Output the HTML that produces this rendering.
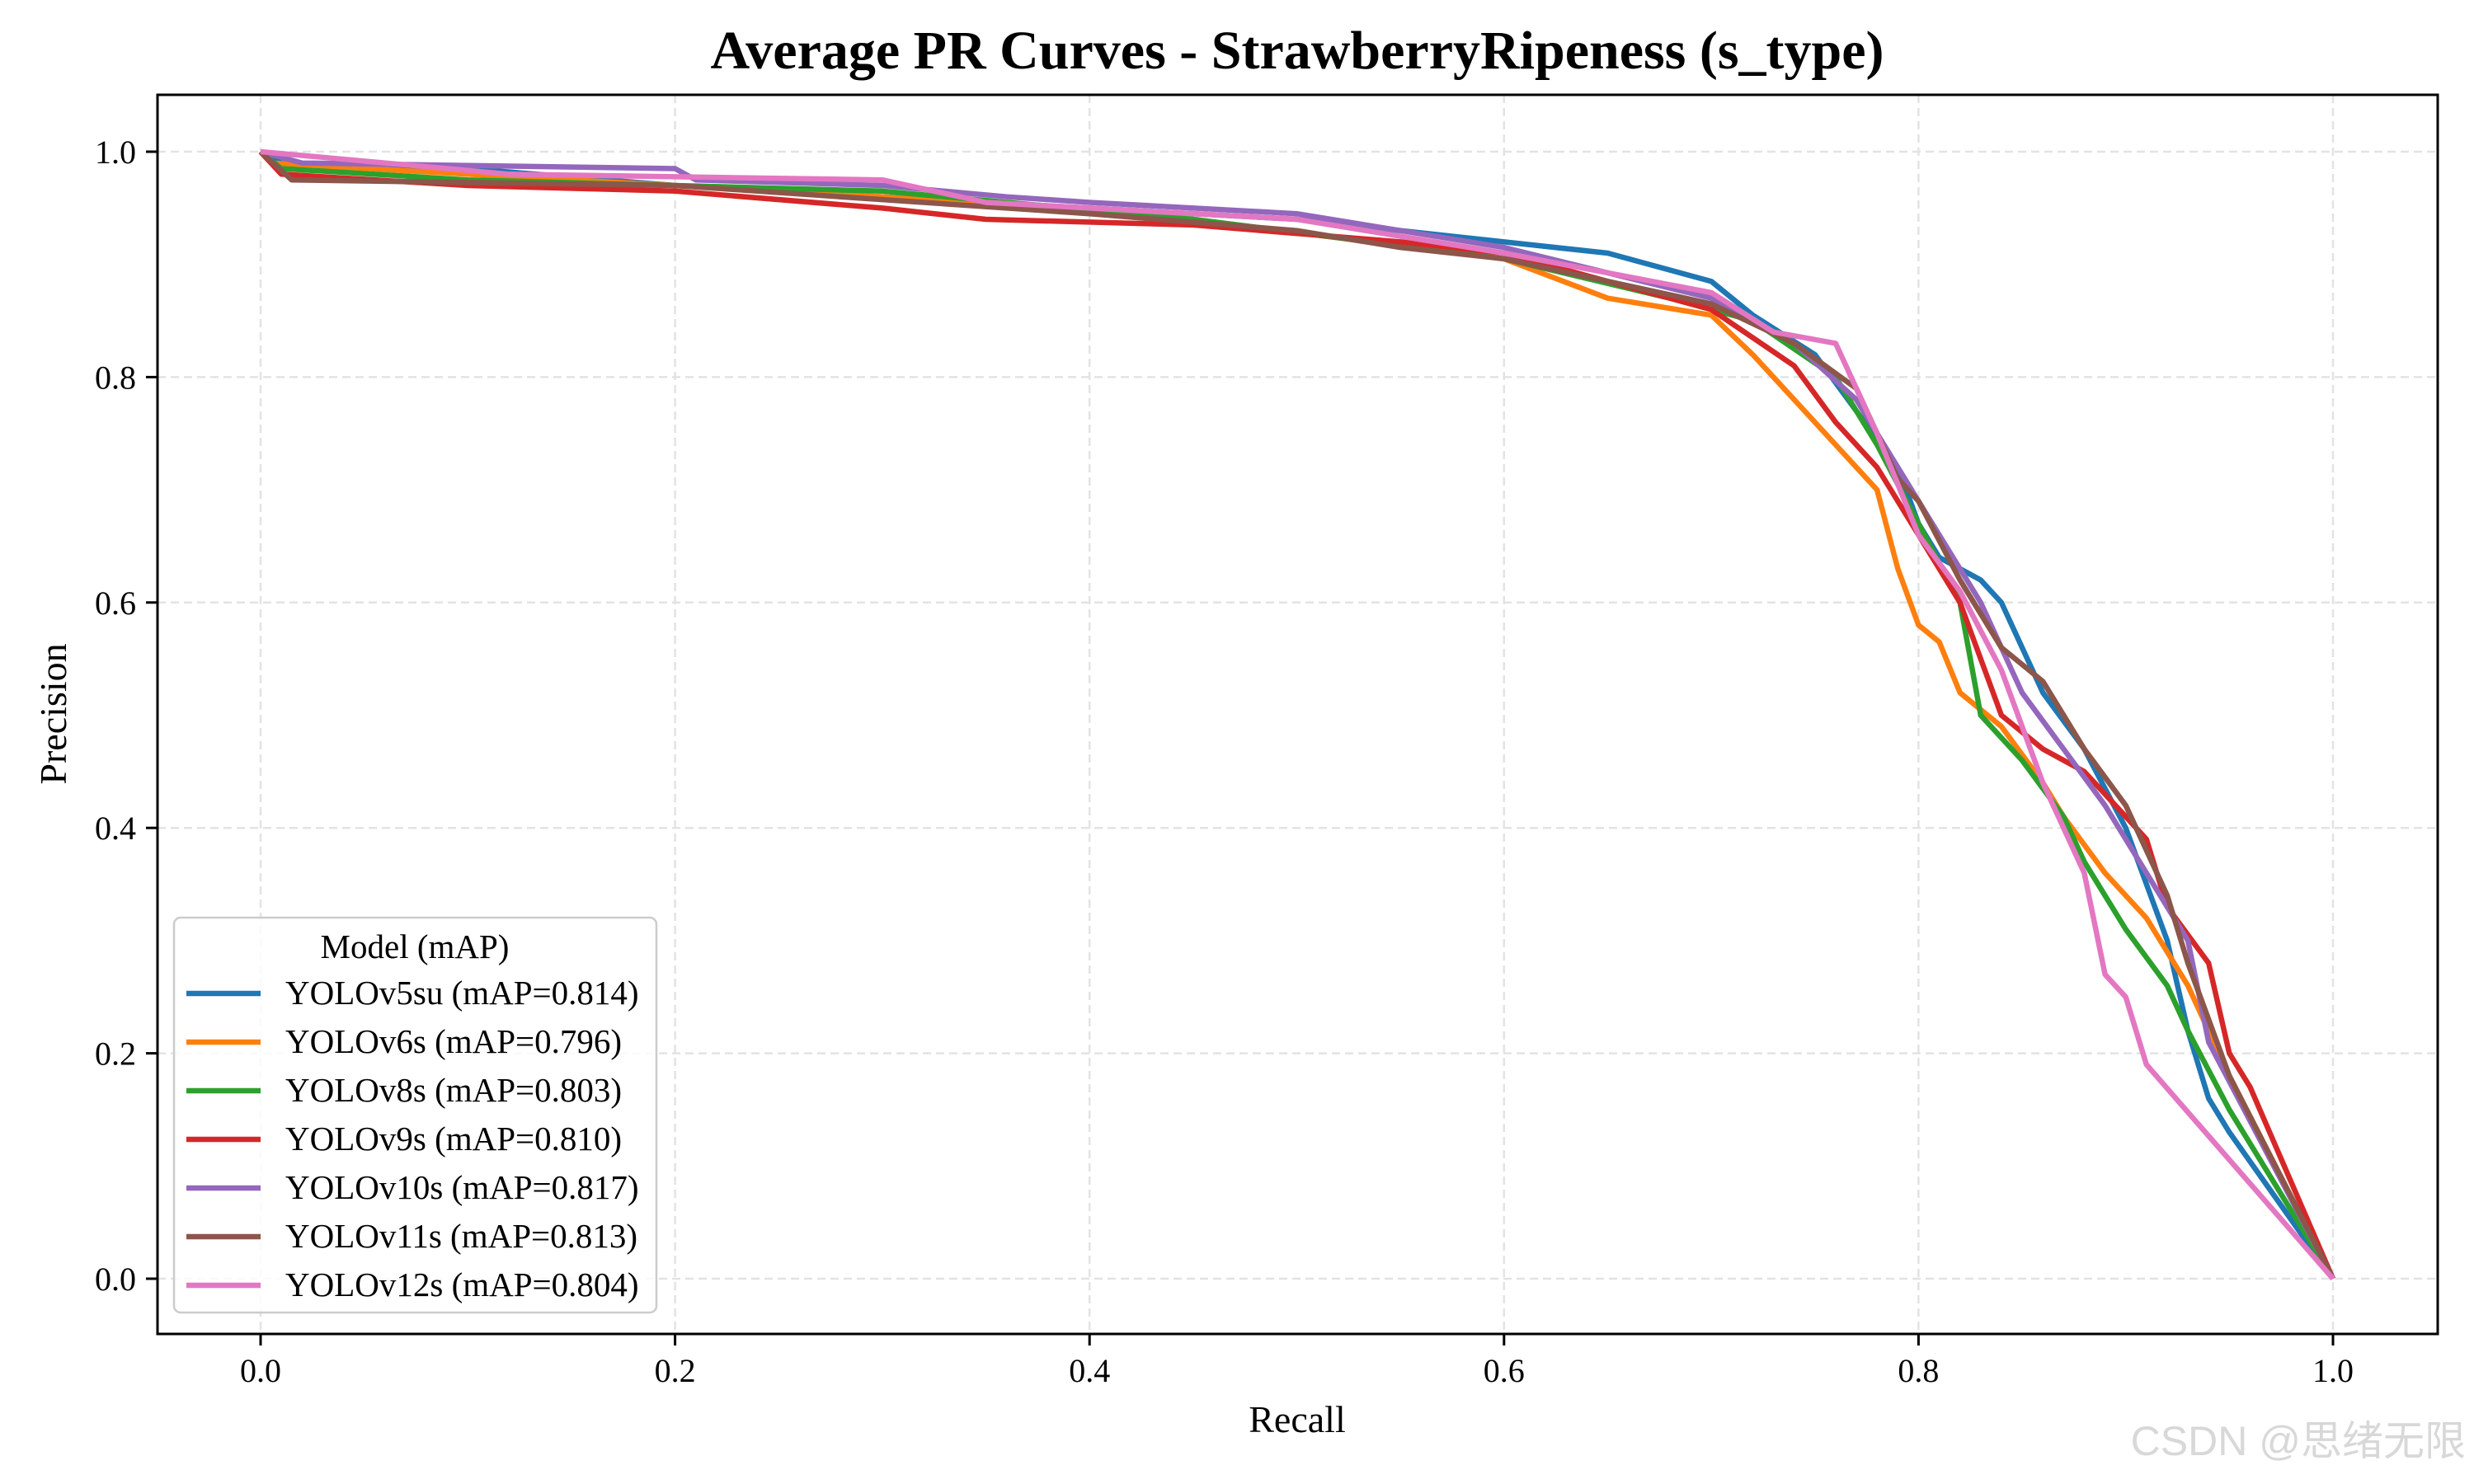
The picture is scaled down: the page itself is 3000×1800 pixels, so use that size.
<!DOCTYPE html>
<html><head><meta charset="utf-8">
<style>
html,body{margin:0;padding:0;background:#fff;}
svg{display:block;font-family:"Liberation Serif","Noto Serif CJK SC",serif;}
</style></head>
<body>
<svg id="chart" width="3000" height="1800" viewBox="0 0 3000 1800" xmlns="http://www.w3.org/2000/svg">
<rect width="3000" height="1800" fill="#fff"/>
<text x="1573" y="83" text-anchor="middle" font-size="66" font-weight="bold">Average PR Curves - StrawberryRipeness (s_type)</text>
<g id="grid"></g>
<g id="series"></g>
<rect x="191" y="115" width="2765" height="1503" fill="none" stroke="#000" stroke-width="3"/>
<g id="ticks"></g>
<text x="1573" y="1737" text-anchor="middle" font-size="46">Recall</text>
<text x="80" y="866" text-anchor="middle" font-size="46" transform="rotate(-90 80 866)">Precision</text>
<g id="legend"></g>
<text x="2990" y="1765" text-anchor="end" font-size="50" fill="#d8d8d8" font-family="Liberation Sans, Noto Sans CJK SC, sans-serif">CSDN @思绪无限</text>
</svg>
<script>
const xTicks=[0,0.2,0.4,0.6,0.8,1.0];
const yTicks=[0,0.2,0.4,0.6,0.8,1.0];
const tickLabels=["0.0","0.2","0.4","0.6","0.8","1.0"];
const names=["YOLOv5su (mAP=0.814)","YOLOv6s (mAP=0.796)","YOLOv8s (mAP=0.803)","YOLOv9s (mAP=0.810)","YOLOv10s (mAP=0.817)","YOLOv11s (mAP=0.813)","YOLOv12s (mAP=0.804)"];
const colors=["#1f77b4","#ff7f0e","#2ca02c","#d62728","#9467bd","#8c564b","#e377c2"];
const v5=[[0,1],[0.01,0.99],[0.1,0.985],[0.2,0.97],[0.3,0.96],[0.4,0.95],[0.5,0.94],[0.6,0.92],[0.65,0.91],[0.7,0.885],[0.72,0.855],[0.75,0.82],[0.77,0.77],[0.79,0.72],[0.8,0.67],[0.81,0.64],[0.83,0.62],[0.84,0.6],[0.86,0.52],[0.88,0.47],[0.9,0.4],[0.92,0.3],[0.93,0.22],[0.94,0.16],[0.95,0.13],[1,0]];
const v6=[[0,1],[0.005,0.99],[0.1,0.98],[0.3,0.96],[0.45,0.94],[0.6,0.905],[0.65,0.87],[0.7,0.855],[0.72,0.82],[0.74,0.78],[0.76,0.74],[0.78,0.7],[0.79,0.63],[0.8,0.58],[0.81,0.565],[0.82,0.52],[0.84,0.49],[0.86,0.44],[0.87,0.41],[0.89,0.36],[0.91,0.32],[0.93,0.26],[0.95,0.18],[1,0]];
const v8=[[0,1],[0.01,0.985],[0.1,0.975],[0.3,0.965],[0.45,0.94],[0.6,0.905],[0.68,0.87],[0.72,0.85],[0.76,0.8],[0.78,0.74],[0.8,0.67],[0.82,0.6],[0.83,0.5],[0.85,0.46],[0.87,0.41],[0.88,0.37],[0.9,0.31],[0.92,0.26],[0.93,0.22],[0.95,0.15],[1,0]];
const v9=[[0,1],[0.01,0.98],[0.1,0.97],[0.2,0.965],[0.3,0.95],[0.35,0.94],[0.45,0.935],[0.55,0.92],[0.6,0.91],[0.7,0.86],[0.74,0.81],[0.76,0.76],[0.78,0.72],[0.8,0.66],[0.82,0.6],[0.84,0.5],[0.86,0.47],[0.88,0.45],[0.9,0.41],[0.91,0.39],[0.92,0.33],[0.94,0.28],[0.95,0.2],[0.96,0.17],[1,0]];
const v10=[[0,1],[0.02,0.99],[0.2,0.985],[0.21,0.975],[0.3,0.97],[0.36,0.96],[0.4,0.955],[0.5,0.945],[0.6,0.915],[0.7,0.87],[0.74,0.83],[0.77,0.78],[0.79,0.72],[0.81,0.66],[0.83,0.6],[0.85,0.52],[0.87,0.47],[0.89,0.42],[0.91,0.36],[0.93,0.3],[0.94,0.21],[1,0]];
const v11=[[0,1],[0.015,0.975],[0.2,0.97],[0.4,0.945],[0.5,0.93],[0.55,0.915],[0.6,0.905],[0.7,0.865],[0.74,0.83],[0.77,0.79],[0.79,0.71],[0.8,0.69],[0.82,0.62],[0.84,0.56],[0.86,0.53],[0.88,0.47],[0.9,0.42],[0.92,0.34],[0.93,0.28],[0.95,0.18],[1,0]];
const v12=[[0,1],[0.03,0.995],[0.12,0.98],[0.3,0.975],[0.35,0.955],[0.5,0.94],[0.6,0.91],[0.7,0.875],[0.73,0.84],[0.76,0.83],[0.78,0.75],[0.8,0.66],[0.82,0.61],[0.84,0.54],[0.86,0.44],[0.88,0.36],[0.89,0.27],[0.9,0.25],[0.91,0.19],[1,0]];
const allSeries=[v5,v6,v8,v9,v10,v11,v12];

const NS="http://www.w3.org/2000/svg";
const X0=316,X1=2829,Y0=1551,Y1=184;
function sx(v){return X0+(X1-X0)*v;}
function sy(v){return Y0-(Y0-Y1)*v;}
function mk(tag,attrs,parent){const e=document.createElementNS(NS,tag);for(const k in attrs)e.setAttribute(k,attrs[k]);parent.appendChild(e);return e;}
const grid=document.getElementById('grid'),ticks=document.getElementById('ticks'),ser=document.getElementById('series'),leg=document.getElementById('legend');
xTicks.forEach((t,i)=>{
  const g=mk('line',{x1:sx(t),x2:sx(t),y1:115,y2:1618,stroke:'#e3e3e3','stroke-width':2.5,'stroke-dasharray':'10 6'},grid);
  
  
  const tk=mk('line',{x1:sx(t),x2:sx(t),y1:1618,y2:1632,stroke:'#000','stroke-width':3},ticks);
  
  
  const tl=mk('text',{x:sx(t),y:1676,'text-anchor':'middle','font-size':40},ticks);
  
  
  tl.textContent=tickLabels[i];
});
yTicks.forEach((t,i)=>{
  const g=mk('line',{x1:191,x2:2956,y1:sy(t),y2:sy(t),stroke:'#e3e3e3','stroke-width':2.5,'stroke-dasharray':'10 6'},grid);
  
  
  const tk=mk('line',{x1:177,x2:191,y1:sy(t),y2:sy(t),stroke:'#000','stroke-width':3},ticks);
  
  
  const tl=mk('text',{x:165,y:sy(t)+14,'text-anchor':'end','font-size':40},ticks);
  
  
  tl.textContent=tickLabels[i];
});
allSeries.forEach((s,i)=>{
  const d=s.map((p,j)=>(j?'L':'M')+sx(p[0]).toFixed(1)+' '+sy(p[1]).toFixed(1)).join(' ');
  const p=mk('path',{d:d,fill:'none',stroke:colors[i],'stroke-width':6.5,'stroke-linejoin':'round'},ser);
  
  
});
const box=mk('rect',{x:211,y:1113,width:585,height:479,rx:8,fill:'#fff','fill-opacity':0.8,stroke:'#ccc','stroke-width':2.5},leg);


const lt=mk('text',{x:503,y:1162,'text-anchor':'middle','font-size':41},leg);


lt.textContent='Model (mAP)';
names.forEach((n,i)=>{
  const y=1205+i*59;
  const ln=mk('line',{x1:226,x2:316,y1:y,y2:y,stroke:colors[i],'stroke-width':6.5},leg);
  
  
  const t=mk('text',{x:346,y:y+13,'font-size':41},leg);
  
  
  t.textContent=n;
});
</script>
</body></html>
